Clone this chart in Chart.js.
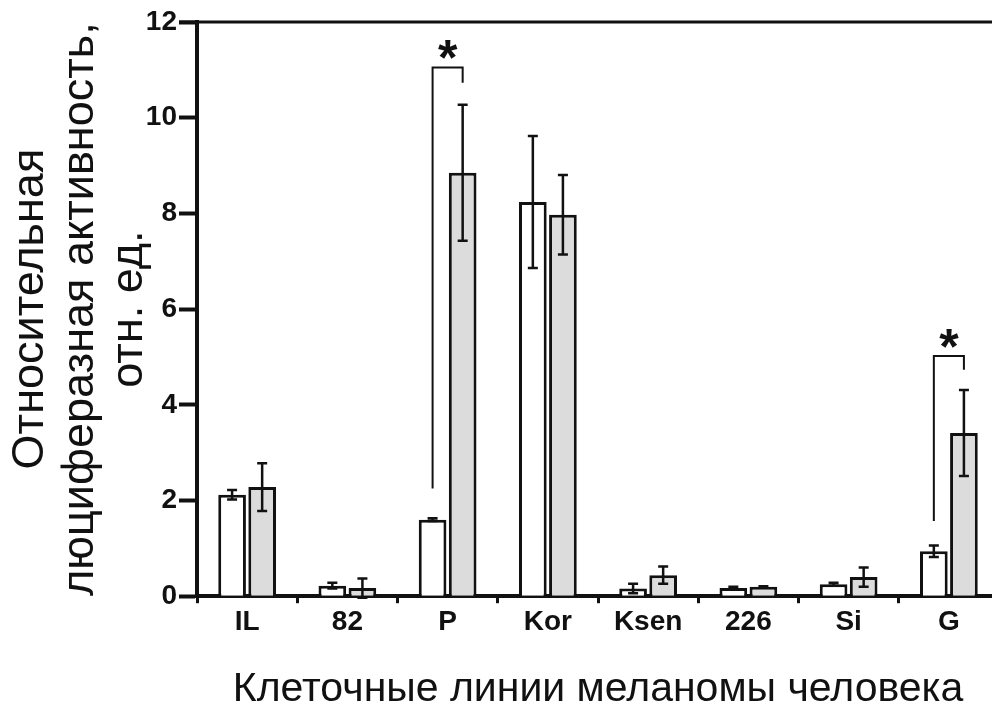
<!DOCTYPE html>
<html>
<head>
<meta charset="utf-8">
<script src="https://cdn.jsdelivr.net/npm/chart.js@4"></script>
<style>
  html, body { margin: 0; padding: 0; background: #fff; overflow: hidden; }
  #wrap { width: 1000px; height: 702px; }
</style>
</head>
<body>
<div id="wrap"><canvas id="chart" width="1000" height="702"></canvas></div>
<script>
// Data
const cellLines = ['IL', '82', 'P', 'Kor', 'Ksen', '226', 'Si', 'G'];
const controlValues = [2.12, 0.22, 1.6, 8.24, 0.16, 0.17, 0.25, 0.94];
const controlErrors = [0.1, 0.06, 0.03, 1.38, 0.1, 0.03, 0.03, 0.12];
const treatedValues = [2.28, 0.17, 8.85, 7.97, 0.44, 0.2, 0.4, 3.41];
const treatedErrors = [0.5, 0.2, 1.42, 0.83, 0.18, 0.01, 0.2, 0.9];
const yTicks = [0, 2, 4, 6, 8, 10, 12];

// significance brackets: category, bottom of left leg, top, bottom of right leg
const sigLines = ['P', 'G'];
const sigLeftBottom = [2.25, 1.57];
const sigTop = [11.05, 5.02];
const sigRightBottom = [10.73, 4.73];

const tickFont = { family: 'Liberation Sans, Arial, sans-serif', size: 28, weight: 'bold' };
const xTitleFont = { family: 'Liberation Sans, Arial, sans-serif', size: 41, weight: 'normal' };
const yTitleFont = { family: 'Liberation Sans, Arial, sans-serif', size: 45, weight: 'normal', lineHeight: 1.1 };

// error bars drawn through the y scale
const errorBars = {
    id: 'errorBars',
    afterDatasetsDraw(chart) {
        const ctx = chart.ctx;
        const y = chart.scales.y;
        const errs = [controlErrors, treatedErrors];
        ctx.save();
        ctx.strokeStyle = '#111';
        ctx.lineWidth = 2.5;
        chart.data.datasets.forEach((ds, di) => {
            const meta = chart.getDatasetMeta(di);
            meta.data.forEach((bar, i) => {
                const v = ds.data[i], e = errs[di][i];
                const yt = y.getPixelForValue(v + e);
                const yb = y.getPixelForValue(v - e);
                const cap = 5;
                ctx.beginPath();
                ctx.moveTo(bar.x, yt); ctx.lineTo(bar.x, yb);
                ctx.moveTo(bar.x - cap, yt); ctx.lineTo(bar.x + cap, yt);
                ctx.moveTo(bar.x - cap, yb); ctx.lineTo(bar.x + cap, yb);
                ctx.stroke();
            });
        });

        // brackets with stars
        const m0 = chart.getDatasetMeta(0), m1 = chart.getDatasetMeta(1);
        ctx.lineWidth = 2;
        sigLines.forEach((name, k) => {
            const i = cellLines.indexOf(name);
            const x0 = m0.data[i].x, x1 = m1.data[i].x;
            const yTop = y.getPixelForValue(sigTop[k]);
            ctx.beginPath();
            ctx.moveTo(x0, y.getPixelForValue(sigLeftBottom[k]));
            ctx.lineTo(x0, yTop);
            ctx.lineTo(x1, yTop);
            ctx.lineTo(x1, y.getPixelForValue(sigRightBottom[k]));
            ctx.stroke();
            ctx.fillStyle = '#111';
            ctx.font = 'bold 50px Liberation Sans, Arial, sans-serif';
            ctx.textAlign = 'center';
            ctx.textBaseline = 'alphabetic';
            ctx.fillText('*', (x0 + x1) / 2, yTop + 8);
        });

        // top frame line
        ctx.lineWidth = 3;
        ctx.beginPath();
        ctx.moveTo(chart.chartArea.left - 18, chart.chartArea.top);
        ctx.lineTo(chart.chartArea.right, chart.chartArea.top);
        ctx.stroke();
        ctx.restore();
    }
};

new Chart(document.getElementById('chart'), {
    type: 'bar',
    data: {
        labels: cellLines,
        datasets: [
            {
                label: 'control',
                data: controlValues,
                backgroundColor: '#ffffff',
                borderColor: '#111',
                borderWidth: 3,
                categoryPercentage: 0.6,
                barPercentage: 0.92
            },
            {
                label: 'treated',
                data: treatedValues,
                backgroundColor: '#dcdcdc',
                borderColor: '#111',
                borderWidth: 3,
                categoryPercentage: 0.6,
                barPercentage: 0.92
            }
        ]
    },
    options: {
        responsive: false,
        animation: false,
        layout: { padding: { top: 22, right: 1, left: 0, bottom: 0 } },
        plugins: { legend: { display: false }, tooltip: { enabled: false } },
        scales: {
            x: {
                grid: { drawOnChartArea: false, offset: true, tickLength: 7, tickWidth: 3, tickColor: '#111' },
                border: { color: '#111', width: 4 },
                ticks: { color: '#111', font: tickFont, padding: 2 },
                title: { display: true, text: 'Клеточные линии меланомы человека', color: '#111', font: xTitleFont, padding: { top: 24, bottom: -12 } }
            },
            y: {
                min: 0,
                max: 12,
                afterBuildTicks(axis) { axis.ticks = yTicks.map(v => ({ value: v })); },
                afterFit(axis) { axis.width = 197; },
                grid: { drawOnChartArea: false, tickLength: 18, tickWidth: 4, tickColor: '#111' },
                border: { color: '#111', width: 4 },
                ticks: { color: '#111', font: tickFont, padding: 2 },
                title: {
                    display: true,
                    text: ['Относительная', 'люциферазная активность,', 'отн. ед.'],
                    color: '#111',
                    font: yTitleFont,
                    padding: { top: 6, bottom: 0 }
                }
            }
        }
    },
    plugins: [errorBars]
});
</script>
</body>
</html>
